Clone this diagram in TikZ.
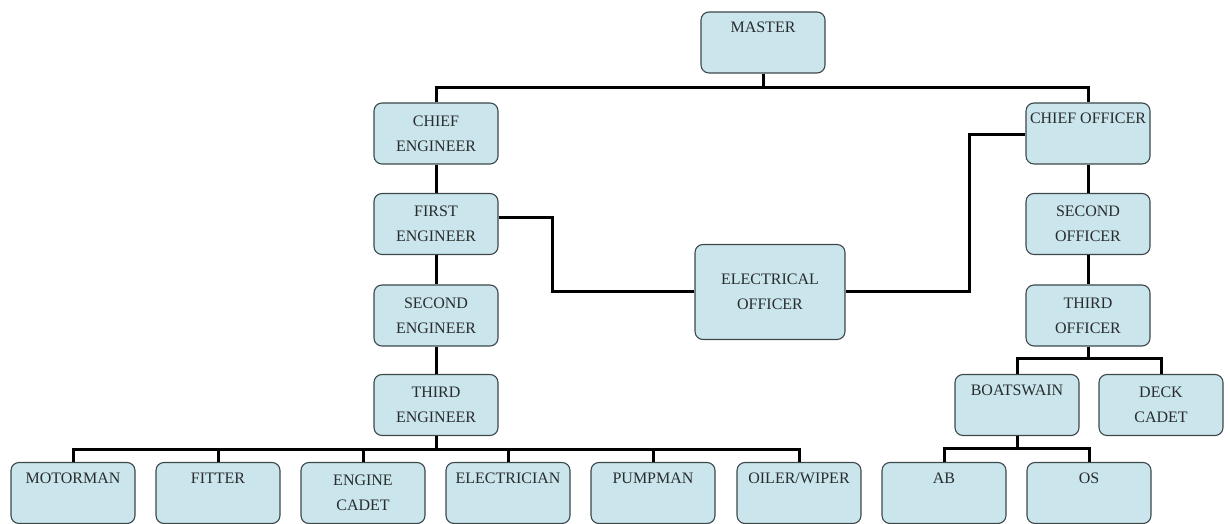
\documentclass[tikz,border=0pt]{standalone}
\usepackage{fontspec}
\setmainfont{Liberation Serif}
\definecolor{boxfill}{RGB}{202,229,236}
\definecolor{boxline}{RGB}{60,72,74}
\definecolor{labeltext}{RGB}{40,44,46}
\tikzset{
	post/.style={draw=boxline,fill=boxfill,rounded corners=8pt,line width=1.1pt,
		minimum width=124pt,minimum height=61pt,inner sep=3pt,align=center,
		text=labeltext,font=\fontsize{16}{25}\selectfont},
	posttop/.style={post,text height=18pt,text depth=37pt},
	link/.style={line width=3pt,black}
}
\begin{document}
\begin{tikzpicture}[x=1pt,y=1pt]
	\useasboundingbox (0,0) rectangle (1230,524);
	% master
		\node[posttop] (master) at (763,481.5) {MASTER};
	% engine department
		\node[post] (ceng) at (436,390.5) {CHIEF\\ENGINEER};
		\node[post] (feng) at (436,300) {FIRST\\ENGINEER};
		\node[post] (seng) at (436,208.5) {SECOND\\ENGINEER};
		\node[post] (teng) at (436,119) {THIRD\\ENGINEER};
	% deck department
		\node[posttop] (coff) at (1088,390.5) {CHIEF OFFICER};
		\node[post] (soff) at (1088,300) {SECOND\\OFFICER};
		\node[post] (toff) at (1088,208.5) {THIRD\\OFFICER};
		\node[posttop] (bosun) at (1017,119) {BOATSWAIN};
		\node[post] (dcadet) at (1161,119) {DECK\\CADET};
	% electrical officer
		\node[post,minimum width=150pt,minimum height=95pt] (eoff) at (770,232) {ELECTRICAL\\OFFICER};
	% ratings
		\node[posttop] (motor) at (73,31) {MOTORMAN};
		\node[posttop] (fitter) at (218,31) {FITTER};
		\node[post] (ecadet) at (363,31) {ENGINE\\CADET};
		\node[posttop] (elec) at (508,31) {ELECTRICIAN};
		\node[posttop] (pump) at (653,31) {PUMPMAN};
		\node[posttop] (oiler) at (799,31) {OILER/WIPER};
		\node[posttop] (ab) at (944,31) {AB};
		\node[posttop] (os) at (1089,31) {OS};
	% master to heads of department
		\draw[link] (master.south) -- ++(0,-15);
		\draw[link] (ceng.north) -- ++(0,15) -| (coff.north);
	% engine chain
		\draw[link] (ceng) -- (feng) -- (seng) -- (teng);
		\draw[link] (teng.south) -- ++(0,-14.5);
		\draw[link] (motor.north) -- ++(0,12.5) -| (oiler.north);
		\foreach \n in {fitter,ecadet,elec,pump}
			\draw[link] (\n.north) -- ++(0,12.5);
	% deck chain
		\draw[link] (coff) -- (soff) -- (toff);
		\draw[link] (toff.south) -- ++(0,-13);
		\draw[link] (bosun.north) -- ++(0,15.5) -| (dcadet.north);
		\draw[link] (bosun.south) -- ++(0,-13.5);
		\draw[link] (ab.north) -- ++(0,13.5) -| (os.north);
	% electrical officer links
		\draw[link] ([yshift=6pt]feng.east) -- ++(54,0) |- (eoff.west);
		\draw[link] ([yshift=-1.5pt]coff.west) -- ++(-56,0) |- (eoff.east);
\end{tikzpicture}
\end{document}
